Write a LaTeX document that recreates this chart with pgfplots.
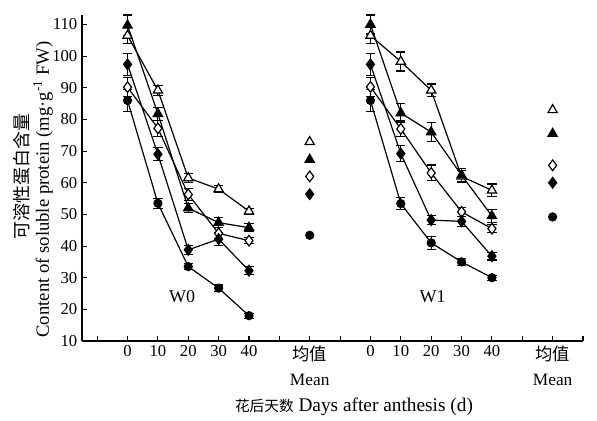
\documentclass[border=0pt]{standalone}
\usepackage{pgfplots}
\pgfplotsset{compat=1.18}
\usepackage{fontspec}
\setmainfont{Liberation Serif}
\newfontfamily\cjk{Noto Sans CJK SC}
\newcommand{\meanlab}{{\cjk\fontsize{13}{18.75}\selectfont 均值}\\{\fontsize{13}{18.75}\selectfont Mean}}
\begin{document}
\begin{tikzpicture}
\begin{axis}[
  scale only axis, width=375.75pt, height=244.5pt,
  xmin=-1.5, xmax=15, ymin=10, ymax=113,
  clip=false,
  axis x line*=bottom, axis y line*=left,
  axis line style={line width=0.9pt},
  tick align=inside, major tick length=3.75pt,
  tick style={line width=0.8pt, black},
  ytick={10,20,...,110},
  xtick={-1,0,...,15},
  xticklabels={,0,10,20,30,40,,{\meanlab},,0,10,20,30,40,,{\meanlab},},
  xticklabel style={align=center, font=\fontsize{12.5}{18.75}\selectfont},
  yticklabel style={font=\fontsize{12.5}{14}\selectfont},
  /pgf/number format/assume math mode=true,
]
\pgfplotsset{
  eb/.style={error bars/y dir=both, error bars/y explicit,
    error bars/error bar style={line width=0.8pt, solid, black},
    error bars/error mark options={line width=0.8pt, mark size=3.5pt, rotate=90, solid, black}},
  ln/.style={black, solid, line width=0.9pt},
  ot/.style={ln, mark=triangle*, mark size=4pt, mark options={fill=white, solid}},
  ft/.style={ln, mark=triangle*, mark size=4pt, mark options={fill=black, solid}},
  od/.style={ln, mark=diamond*, mark size=4pt, mark options={fill=white, solid}},
  fd/.style={ln, mark=diamond*, mark size=4pt, mark options={fill=black, solid}},
  cc/.style={ln, mark=*, mark size=3pt, mark options={fill=black, solid}},
}
% W0
\addplot[ot, eb] table[x=x, y=y, y error=e] {
x y e
0 106.5 2.5
1 89.2 1.5
2 61.5 1.5
3 58.0 1.2
4 51.0 1.0
};
\addplot[ft, eb] table[x=x, y=y, y error=e] {
x y e
0 109.7 3.3
1 81.8 2.0
2 52.0 1.5
3 47.4 1.5
4 45.8 1.2
};
\addplot[od, eb] table[x=x, y=y, y error=e] {
x y e
0 90.2 3.0
1 77.2 2.5
2 56.3 2.0
3 44.0 2.0
4 41.7 1.0
};
\addplot[fd, eb] table[x=x, y=y, y error=e] {
x y e
0 97.4 3.5
1 69.0 2.0
2 38.8 1.5
3 42.2 2.0
4 32.2 1.2
};
\addplot[cc, eb] table[x=x, y=y, y error=e] {
x y e
0 86.0 3.5
1 53.5 1.5
2 33.5 1.0
3 26.7 1.0
4 18.0 0.8
};
% W1
\addplot[ot, eb] table[x=x, y=y, y error=e] {
x y e
8 106.5 2.5
9 98.3 3.0
10 89.2 2.0
11 62.0 2.0
12 57.6 2.0
};
\addplot[ft, eb] table[x=x, y=y, y error=e] {
x y e
8 110.0 3.0
9 82.0 3.0
10 76.0 3.0
11 62.4 2.0
12 49.5 2.0
};
\addplot[od, eb] table[x=x, y=y, y error=e] {
x y e
8 90.3 3.0
9 77.0 2.5
10 63.1 2.5
11 50.8 1.5
12 45.5 1.2
};
\addplot[fd, eb] table[x=x, y=y, y error=e] {
x y e
8 97.4 3.5
9 69.2 2.5
10 48.2 1.5
11 47.8 1.5
12 36.8 1.2
};
\addplot[cc, eb] table[x=x, y=y, y error=e] {
x y e
8 86.0 3.5
9 53.4 2.0
10 41.0 2.0
11 35.0 1.0
12 30.0 0.8
};
% Means
\addplot[ot, only marks] coordinates {(6,72.9) (14,83.0)};
\addplot[ft, only marks] coordinates {(6,67.3) (14,75.5)};
\addplot[od, only marks] coordinates {(6,62.0) (14,65.5)};
\addplot[fd, only marks] coordinates {(6,56.4) (14,60.0)};
\addplot[cc, only marks] coordinates {(6,43.4) (14,49.2)};
\node[font=\fontsize{13.5}{15}\selectfont] at (axis cs:1.8,24) {W0};
\node[font=\fontsize{13.5}{15}\selectfont] at (axis cs:10.05,24) {W1};
\node[font=\fontsize{14.5}{16}\selectfont, inner sep=0pt] at ([xshift=204pt,yshift=-49.5pt]rel axis cs:0,0) {{\cjk\fontsize{11}{13}\selectfont 花后天数} Days after anthesis (d)};
\node[rotate=90, inner sep=0pt, font=\cjk\fontsize{13.5}{15}\selectfont] at ([xshift=-45pt]rel axis cs:0,0.506) {可溶性蛋白含量};
\node[rotate=90, inner sep=0pt, font=\fontsize{14}{16}\selectfont] at ([xshift=-29.25pt]rel axis cs:0,0.465) {Content of soluble protein (mg·g\textsuperscript{-1} FW)};
\end{axis}
\pgfresetboundingbox
\path ([xshift=-61.5pt,yshift=-60pt]current axis.south west) rectangle ([xshift=10.5pt,yshift=11.25pt]current axis.north east);
\end{tikzpicture}
\end{document}
